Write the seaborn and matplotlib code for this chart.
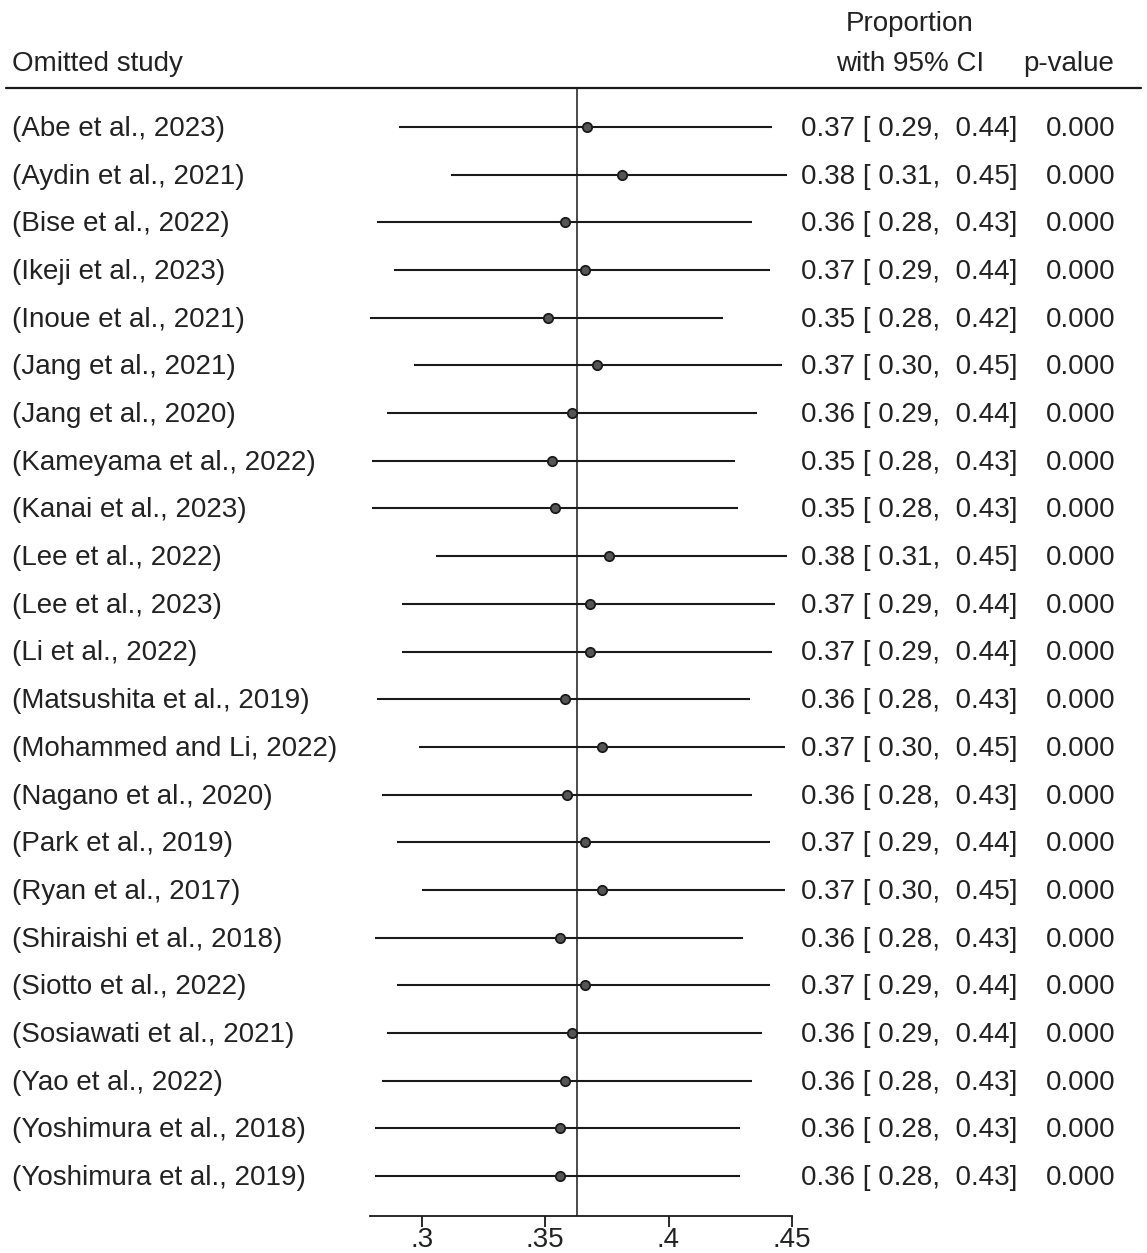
import matplotlib
matplotlib.use("Agg")
import matplotlib.pyplot as plt
import seaborn as sns
import pandas as pd

studies = ["(Abe et al., 2023)", "(Aydin et al., 2021)", "(Bise et al., 2022)",
           "(Ikeji et al., 2023)", "(Inoue et al., 2021)", "(Jang et al., 2021)",
           "(Jang et al., 2020)", "(Kameyama et al., 2022)", "(Kanai et al., 2023)",
           "(Lee et al., 2022)", "(Lee et al., 2023)", "(Li et al., 2022)",
           "(Matsushita et al., 2019)", "(Mohammed and Li, 2022)", "(Nagano et al., 2020)",
           "(Park et al., 2019)", "(Ryan et al., 2017)", "(Shiraishi et al., 2018)",
           "(Siotto et al., 2022)", "(Sosiawati et al., 2021)", "(Yao et al., 2022)",
           "(Yoshimura et al., 2018)", "(Yoshimura et al., 2019)"]
est = [0.367, 0.381, 0.358, 0.366, 0.351, 0.371, 0.361, 0.353, 0.354, 0.376, 0.368, 0.368,
       0.358, 0.373, 0.359, 0.366, 0.373, 0.356, 0.366, 0.361, 0.358, 0.356, 0.356]
lo = [0.291, 0.312, 0.282, 0.289, 0.279, 0.297, 0.286, 0.280, 0.280, 0.306, 0.292, 0.292,
      0.282, 0.299, 0.284, 0.290, 0.300, 0.281, 0.290, 0.286, 0.284, 0.281, 0.281]
hi = [0.442, 0.448, 0.434, 0.441, 0.422, 0.446, 0.436, 0.427, 0.428, 0.448, 0.443, 0.442,
      0.433, 0.447, 0.434, 0.441, 0.447, 0.430, 0.441, 0.438, 0.434, 0.429, 0.429]
pvals = [0.000, 0.000, 0.000, 0.000, 0.000, 0.000, 0.000, 0.000, 0.000, 0.000, 0.000, 0.000,
         0.000, 0.000, 0.000, 0.000, 0.000, 0.000, 0.000, 0.000, 0.000, 0.000, 0.000]
overall = 0.363
xticks = [0.3, 0.35, 0.4, 0.45]
xtick_labels = [".3", ".35", ".4", ".45"]

df = pd.DataFrame({"study": studies, "est": est, "lo": lo, "hi": hi, "p": pvals})
df["row"] = range(len(df))

sns.set_theme(style="white")
plt.rcParams["font.family"] = ["Liberation Sans", "DejaVu Sans"]
fs = 20
tc = "#222222"

W, H = 1147, 1253
fig = plt.figure(figsize=(W / 100, H / 100), dpi=100)
ax = fig.add_axes([370 / W, 37 / H, (792 - 370) / W, (1216 - 88) / H])

step = (1176 - 127) / 22
ax.set_ylim((1216 - 127) / step, (88 - 127) / step)
ax.set_xlim(0.2791, 0.45)

ax.hlines(df["row"], df["lo"], df["hi"], color="#1a1a1a", lw=1.5, zorder=2)
ax.axvline(overall, color="#1a1a1a", lw=1.1, zorder=1)
sns.scatterplot(data=df, x="est", y="row", ax=ax, s=45, color="#555555",
                edgecolor="#1a1a1a", linewidth=1.3, zorder=3, legend=False)

for s in ["top", "left", "right"]:
    ax.spines[s].set_visible(False)
ax.spines["bottom"].set_color("#1a1a1a")
ax.spines["bottom"].set_linewidth(1.3)
ax.set_yticks([])
ax.set_xticks(xticks)
ax.set_xticklabels(xtick_labels, fontsize=fs, color=tc)
ax.tick_params(axis="x", direction="out", length=8, width=1.3, color="#1a1a1a",
               bottom=True, pad=0)
ax.set_xlabel("")
ax.set_ylabel("")
ax.patch.set_alpha(0)

# text columns, positioned in figure pixels
def fy(py):
    return 1 - py / H

for r in df.itertuples():
    y = fy(129 + step * r.row)
    fig.text(12 / W, y, r.study, ha="left", va="center", fontsize=fs, color=tc)
    fig.text(801 / W, y, f"{r.est:.2f} [{r.lo:5.2f}, {r.hi:5.2f}]",
             ha="left", va="center", fontsize=fs, color=tc)
    fig.text(1046 / W, y, f"{r.p:.3f}", ha="left", va="center", fontsize=fs, color=tc)

fig.text(12 / W, fy(64), "Omitted study", ha="left", va="center", fontsize=fs, color=tc)
fig.text(910 / W, fy(24), "Proportion", ha="center", va="center", fontsize=fs, color=tc)
fig.text(910 / W, fy(64), "with 95% CI", ha="center", va="center", fontsize=fs, color=tc)
fig.text(1069 / W, fy(64), "p-value", ha="center", va="center", fontsize=fs, color=tc)
fig.add_artist(plt.Line2D([6 / W, 1141 / W], [fy(88), fy(88)], color="#1a1a1a", lw=1.6))

fig.savefig("out.png", dpi=100, facecolor="white")
